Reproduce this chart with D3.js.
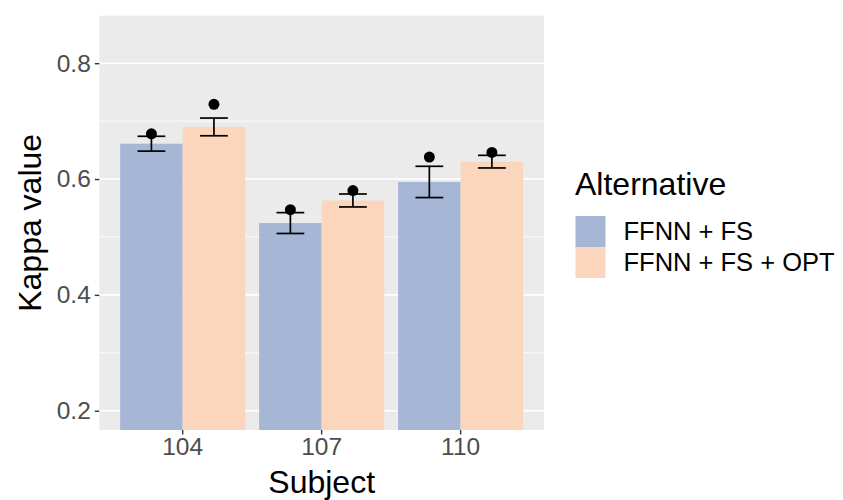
<!DOCTYPE html>
<html>
<head>
<meta charset="utf-8">
<script src="https://cdn.jsdelivr.net/npm/d3@7"></script>
<style>
  html, body { margin: 0; padding: 0; background: #fff; }
  svg { display: block; font-family: "Liberation Sans", Arial, Helvetica, sans-serif; }
</style>
</head>
<body>
<svg id="chart" width="843" height="500"></svg>
<script>
// Kappa values per subject for the two model alternatives
const subjects = ["104", "107", "110"];
const alternatives = ["FFNN + FS", "FFNN + FS + OPT"];
const meanFS = [0.661, 0.524, 0.595];
const seFS = [0.0128, 0.018, 0.027];
const meanOPT = [0.690, 0.563, 0.630];
const seOPT = [0.0153, 0.0112, 0.0109];
const pointFS = [0.678, 0.547, 0.638];
const pointOPT = [0.729, 0.580, 0.646];
const yTicks = [0.2, 0.4, 0.6, 0.8];
const yMinor = [0.3, 0.5, 0.7];
const colors = ["#a6b6d5", "#fcd6bc"];

const rows = [];
subjects.forEach((s, i) => {
  rows.push({ subject: s, alt: alternatives[0], mean: meanFS[i], se: seFS[i], point: pointFS[i] });
  rows.push({ subject: s, alt: alternatives[1], mean: meanOPT[i], se: seOPT[i], point: pointOPT[i] });
});

const svg = d3.select("#chart");
const panel = { left: 99.3, right: 544, top: 15.7, bottom: 430 };

const x = d3.scaleBand()
  .domain(subjects)
  .range([panel.left, panel.right])
  .paddingInner(0)
  .paddingOuter(0.1);
const groupWidth = x.step() * 0.9;
const xSub = d3.scaleBand()
  .domain(alternatives)
  .range([0, groupWidth]);
const color = d3.scaleOrdinal().domain(alternatives).range(colors);

const y = d3.scaleLinear()
  .domain([0.1667, 0.882])
  .range([panel.bottom, panel.top]);

// panel background and horizontal grid
svg.append("rect")
  .attr("x", panel.left).attr("y", panel.top)
  .attr("width", panel.right - panel.left)
  .attr("height", panel.bottom - panel.top)
  .attr("fill", "#ebebeb");

svg.append("g").selectAll("line").data(yMinor).join("line")
  .attr("x1", panel.left).attr("x2", panel.right)
  .attr("y1", d => y(d)).attr("y2", d => y(d))
  .attr("stroke", "#fff").attr("stroke-width", 0.8);
svg.append("g").selectAll("line").data(yTicks).join("line")
  .attr("x1", panel.left).attr("x2", panel.right)
  .attr("y1", d => y(d)).attr("y2", d => y(d))
  .attr("stroke", "#fff").attr("stroke-width", 1.6);

const barX = d => x(d.subject) + x.bandwidth() / 2 - groupWidth / 2 + xSub(d.alt);
const barCx = d => barX(d) + xSub.bandwidth() / 2;

// bars
svg.append("g").selectAll("rect").data(rows).join("rect")
  .attr("x", barX)
  .attr("width", xSub.bandwidth())
  .attr("y", d => y(d.mean))
  .attr("height", d => panel.bottom - y(d.mean))
  .attr("fill", d => color(d.alt));

// error bars (mean ± se)
const capHalf = x.step() * 0.1;
const eb = svg.append("g").attr("stroke", "#000").attr("stroke-width", 1.7);
eb.selectAll(".stem").data(rows).join("line")
  .attr("x1", barCx).attr("x2", barCx)
  .attr("y1", d => y(d.mean + d.se)).attr("y2", d => y(d.mean - d.se));
eb.selectAll(".capTop").data(rows).join("line")
  .attr("x1", d => barCx(d) - capHalf).attr("x2", d => barCx(d) + capHalf)
  .attr("y1", d => y(d.mean + d.se)).attr("y2", d => y(d.mean + d.se));
eb.selectAll(".capBot").data(rows).join("line")
  .attr("x1", d => barCx(d) - capHalf).attr("x2", d => barCx(d) + capHalf)
  .attr("y1", d => y(d.mean - d.se)).attr("y2", d => y(d.mean - d.se));

// points
svg.append("g").selectAll("circle").data(rows).join("circle")
  .attr("cx", barCx).attr("cy", d => y(d.point))
  .attr("r", 5.5).attr("fill", "#000");

// axes
const yAxis = svg.append("g")
  .attr("transform", `translate(${panel.left},0)`)
  .call(d3.axisLeft(y).tickValues(yTicks).tickFormat(d3.format(".1f")).tickSize(4.5).tickPadding(4));
yAxis.select(".domain").remove();
yAxis.selectAll(".tick line").attr("stroke", "#333").attr("stroke-width", 1.4);
yAxis.selectAll(".tick text").attr("fill", "#4d4d4d").attr("font-size", 24.5)
  .attr("font-family", "Liberation Sans, Arial, sans-serif");

const xAxis = svg.append("g")
  .attr("transform", `translate(0,${panel.bottom})`)
  .call(d3.axisBottom(x).tickSize(4.5).tickPadding(3));
xAxis.select(".domain").remove();
xAxis.selectAll(".tick line").attr("stroke", "#333").attr("stroke-width", 1.4);
xAxis.selectAll(".tick text").attr("fill", "#4d4d4d").attr("font-size", 24.5)
  .attr("font-family", "Liberation Sans, Arial, sans-serif");

// axis titles
svg.append("text")
  .attr("x", (panel.left + panel.right) / 2).attr("y", 493)
  .attr("text-anchor", "middle").attr("font-size", 32).attr("fill", "#000")
  .text("Subject");
svg.append("text")
  .attr("transform", `translate(41,${(panel.top + panel.bottom) / 2}) rotate(-90)`)
  .attr("text-anchor", "middle").attr("font-size", 32).attr("fill", "#000")
  .text("Kappa value");

// legend
const legend = svg.append("g");
legend.append("text")
  .attr("x", 575).attr("y", 195)
  .attr("font-size", 32).attr("fill", "#000")
  .text("Alternative");
const keySize = 31;
const item = legend.selectAll(".item").data(alternatives).join("g")
  .attr("transform", (d, i) => `translate(575.5,${216 + i * keySize})`);
item.append("rect")
  .attr("width", 30).attr("height", keySize)
  .attr("fill", d => color(d));
item.append("text")
  .attr("x", 48).attr("y", keySize / 2).attr("dy", "0.35em")
  .attr("font-size", 25.5).attr("fill", "#000")
  .text(d => d);
</script>
</body>
</html>
